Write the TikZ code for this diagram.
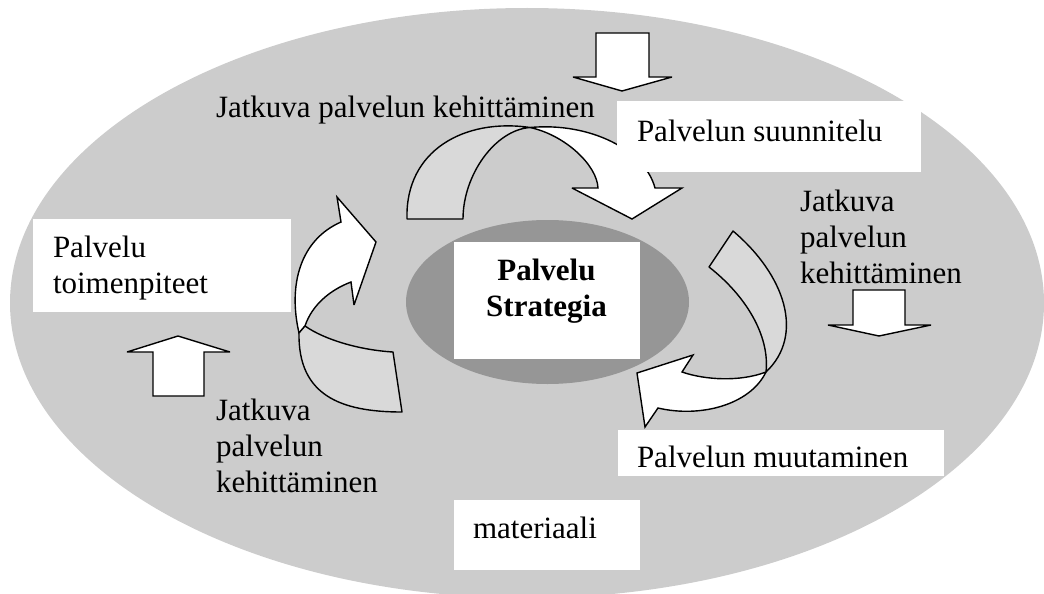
\documentclass[tikz,border=0pt]{standalone}
\usepackage{fontspec}
\setmainfont{Liberation Serif}
\definecolor{outergray}{HTML}{CCCCCC}
\definecolor{innergray}{HTML}{969696}
\definecolor{ribbongray}{HTML}{D9D9D9}
\begin{document}
\begin{tikzpicture}[x=1pt,y=-1pt,
  every node/.style={inner sep=0pt,outer sep=0pt},
  lbl/.style={anchor=base west,font=\fontsize{31}{36}\selectfont},
  clbl/.style={anchor=base,font=\fontsize{31}{36}\selectfont\bfseries},
  tbox/.style={fill=white,draw=none,anchor=north west},
  blk/.style={fill=white,draw=black,line width=1.4pt,line join=miter,miter limit=4},
  ribbon/.style={fill=ribbongray,draw=black,line width=1.4pt,line join=round},
  front/.style={fill=white,draw=black,line width=1.4pt,line join=miter,miter limit=4},
]
\useasboundingbox (0,0) rectangle (1044,594);
\clip (0,0) rectangle (1044,594);

% background discs
\fill[outergray] (527,303) ellipse [x radius=517pt,y radius=295pt];
\fill[innergray] (547.5,302) ellipse [x radius=141.5pt,y radius=82pt];

% top twisted arrow
\coordinate (tx) at (530,127.5);
\draw[ribbon] (407,219) .. controls (405,150) and (465,118) .. (tx)
  .. controls (495,130) and (463,175) .. (463,219) -- cycle;
\draw[front] (tx) .. controls (590,122) and (645,150) .. (655,188)
  -- (682,188) -- (632,219) -- (572,188) -- (598,188)
  .. controls (597,165) and (565,135) .. (tx) -- cycle;

% right twisted arrow
\coordinate (rx) at (766,372);
\draw[ribbon] (733,231) .. controls (785,275) and (805,335) .. (rx)
  .. controls (770,335) and (745,295) .. (709,267) -- cycle;
\draw[front] (rx) .. controls (740,382) and (705,380) .. (682,372)
  -- (693,355) -- (637,373) -- (645,427) -- (658,408)
  .. controls (700,418) and (750,405) .. (rx) -- cycle;

% left folded arrow
\coordinate (lc) at (305,326);
\coordinate (lf) at (299,333);
\draw[front] (341,222) .. controls (300,240) and (288,285) .. (lf)
  -- (lc) .. controls (312,305) and (330,290) .. (351,282)
  -- (354,305) -- (376,242) -- (337,197) -- cycle;
\draw[ribbon] (lc) .. controls (325,340) and (360,350) .. (393,352)
  -- (402,412) .. controls (340,412) and (298,395) .. (lf) -- cycle;

% straight block arrows
\draw[blk] (596,33) -- (649,33) -- (649,77) -- (672,77) -- (622,91)
  -- (573,77) -- (596,77) -- cycle;
\draw[blk] (853,290) -- (905,290) -- (905,325) -- (931,325) -- (879,336)
  -- (828,325) -- (853,325) -- cycle;
\draw[blk] (153,396) -- (204,396) -- (204,352) -- (230,352) -- (178,336)
  -- (127,352) -- (153,352) -- cycle;

% white text panels
\node[tbox,minimum width=304pt,minimum height=71pt] (bsuun) at (617,101) {};
\node[tbox,minimum width=258pt,minimum height=93pt] (btoim) at (33,219) {};
\node[tbox,minimum width=186pt,minimum height=117pt] (bstrat) at (454,242) {};
\node[tbox,minimum width=326pt,minimum height=46pt] (bmuut) at (618,430) {};
\node[tbox,minimum width=186pt,minimum height=70pt] (bmat) at (454,500) {};

% labels
\node[lbl] (ltop) at (216,117) {Jatkuva palvelun kehittäminen};
\node[lbl] (lsuun) at (637,141) {Palvelun suunnitelu};
\node[lbl] (lr1) at (800,211) {Jatkuva};
\node[lbl] (lr2) at (800,247) {palvelun};
\node[lbl] (lr3) at (800,283) {kehittäminen};
\node[lbl] (lt1) at (53,257) {Palvelu};
\node[lbl] (lt2) at (53,293) {toimenpiteet};
\node[lbl] (lb1) at (216,420) {Jatkuva};
\node[lbl] (lb2) at (216,456) {palvelun};
\node[lbl] (lb3) at (216,492) {kehittäminen};
\node[lbl] (lmuut) at (637,467) {Palvelun muutaminen};
\node[lbl] (lmat) at (473,538) {materiaali};
\node[clbl] (ls1) at (546.5,280) {Palvelu};
\node[clbl] (ls2) at (546.5,316) {Strategia};
\end{tikzpicture}
\end{document}
